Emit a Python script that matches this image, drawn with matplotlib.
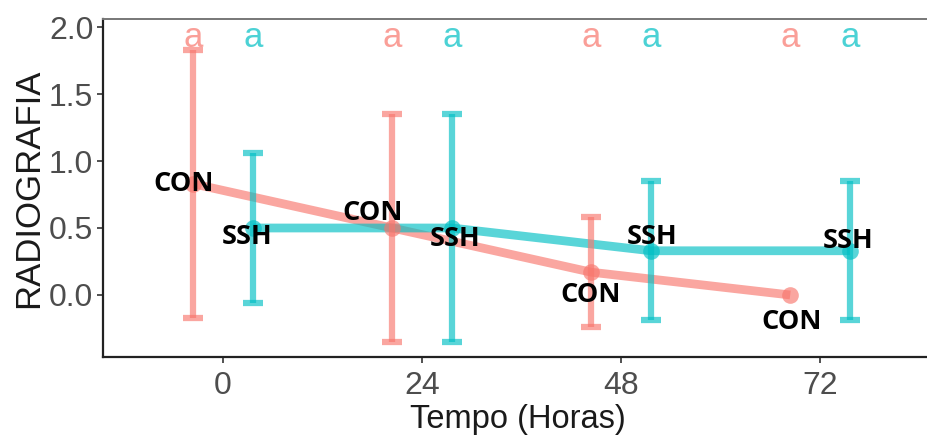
import numpy as np
import matplotlib
matplotlib.use("Agg")
import matplotlib.pyplot as plt

# data
hours = [0, 24, 48, 72]
groups = ["CON", "SSH"]
con_mean = [0.83, 0.50, 0.17, 0.00]
con_err = [1.00, 0.85, 0.41, np.nan]
ssh_mean = [0.50, 0.50, 0.33, 0.33]
ssh_err = [0.56, 0.85, 0.52, 0.52]
con_letters = ["a", "a", "a", "a"]
ssh_letters = ["a", "a", "a", "a"]
yticks = [0.0, 0.5, 1.0, 1.5, 2.0]

# styling
colors = {"CON": "#F8766D", "SSH": "#00BFC4"}
dodge = {"CON": -3.6, "SSH": 3.6}
label_off = {
    "CON": [(-1.2, 0.0), (-2.3, 0.11), (-0.1, -0.17), (0.2, -0.2)],
    "SSH": [(-0.7, -0.07), (0.4, -0.08), (0.1, 0.10), (-0.2, 0.07)],
}
letter_y = 1.92
alpha = 0.65

plt.rcParams["font.family"] = ["Liberation Sans", "DejaVu Sans"]

fig = plt.figure(figsize=(9.28, 4.44), dpi=100)
ax = fig.add_axes([103 / 928, 87 / 444, 829 / 928, 338 / 444])

series = {"CON": (con_mean, con_err, con_letters),
          "SSH": (ssh_mean, ssh_err, ssh_letters)}

for g in groups:
    mean, err, letters = series[g]
    x = np.array(hours) + dodge[g]
    ax.plot(x, mean, color=colors[g], alpha=alpha, lw=6.3, solid_capstyle="butt", zorder=2)
    ax.plot(x, mean, "o", color=colors[g], alpha=alpha, ms=12, mew=0, zorder=3)
    ax.errorbar(x, mean, yerr=err, fmt="none", ecolor=colors[g], alpha=alpha,
                elinewidth=4.5, capsize=7.2, capthick=4.5, zorder=3)
    for xi, lt in zip(x, letters):
        ax.text(xi, letter_y, lt, color=colors[g], alpha=0.7, fontsize=25,
                ha="center", va="center", zorder=4)
    for xi, yi, (dx, dy) in zip(x, mean, label_off[g]):
        ax.text(xi + dx, yi + dy, g, fontsize=19.5, fontweight="bold",
                family=["Open Sans", "DejaVu Sans"], color="black",
                ha="center", va="center", zorder=5)

ax.set_xlim(-14.47, 85.5)
ax.set_ylim(-0.463, 2.06)
ax.set_xticks(hours)
ax.set_xticklabels([str(h) for h in hours])
ax.set_yticks(yticks)
ax.set_yticklabels(["%.1f" % v for v in yticks])
ax.tick_params(axis="both", colors="#333333", labelcolor="#4D4D4D",
               labelsize=23, length=4, width=1.2)
ax.tick_params(axis="x", pad=6)
ax.tick_params(axis="y", pad=3)

for s in ["left", "bottom"]:
    ax.spines[s].set_color("#222222")
    ax.spines[s].set_linewidth(1.6)
ax.spines["top"].set_color("#777777")
ax.spines["top"].set_linewidth(1.4)
ax.spines["right"].set_visible(False)

ax.set_xlabel("Tempo (Horas)", fontsize=23.5, color="#1A1A1A", labelpad=2)
ax.set_ylabel("RADIOGRAFIA", fontsize=25, color="#1A1A1A", labelpad=3)

fig.savefig("out.png", dpi=100)
